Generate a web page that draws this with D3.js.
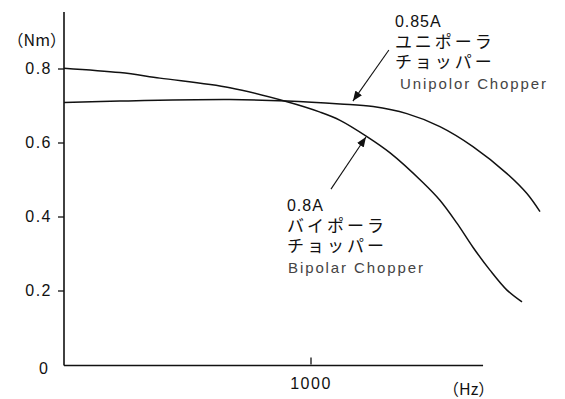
<!DOCTYPE html>
<html>
<head>
<meta charset="utf-8">
<script src="https://cdn.jsdelivr.net/npm/d3@7"></script>
<style>
  body { margin: 0; background: #fff; }
  svg text { font-family: "Liberation Sans", Arial, sans-serif; fill: #111; }
  .jp { font-family: "Noto Sans CJK JP", sans-serif; }
</style>
</head>
<body>
<svg id="chart" width="565" height="399"></svg>
<script>
const svg = d3.select("#chart");

// frequency (Hz) and torque (Nm)
const bipolarHz = [0, 227, 389, 673, 905, 1039, 1120, 1229, 1323, 1456, 1525, 1594, 1659, 1728, 1797, 1858];
const bipolarNm = [0.801, 0.789, 0.774, 0.748, 0.710, 0.682, 0.660, 0.616, 0.572, 0.492, 0.444, 0.382, 0.317, 0.255, 0.201, 0.169];
const unipolarHz = [0, 227, 673, 905, 1120, 1254, 1391, 1525, 1659, 1797, 1878, 1931];
const unipolarNm = [0.708, 0.712, 0.716, 0.712, 0.704, 0.697, 0.678, 0.643, 0.589, 0.516, 0.462, 0.413];

const yTicks = [0.2, 0.4, 0.6, 0.8];
const xTicks = [1000];
const uniLabel = ["0.85A", "ユニポーラ", "チョッパー", "Unipolor Chopper"];
const biLabel = ["0.8A", "バイポーラ", "チョッパー", "Bipolar Chopper"];
// arrows: [tail, tip] in data units
const uniArrow = [[1318, 0.850], [1172, 0.712]];
const biArrow = [[1083, 0.474], [1225, 0.615]];

const X_END = 1700, Y_TOP = 0.953;

let xscale = d3.scaleLinear().domain([0, 1000]).range([64, 310.5]);
let yscale = d3.scaleLinear().domain([0, 0.8]).range([364.5, 68.5]);

function main() {
    drawAxes();
    drawCurves();
    drawNotes();
}

function drawAxes() {
    const yAxis = svg.append("g")
        .attr("transform", `translate(${xscale(0)},0)`)
        .call(d3.axisLeft(yscale).tickValues(yTicks).tickSize(6).tickPadding(6).tickFormat(d3.format(".1f")));
    yAxis.select(".domain").remove();
    yAxis.selectAll(".tick line").attr("stroke", "#111").attr("stroke-width", 1.3);
    yAxis.selectAll(".tick text")
        .attr("font-size", 16).attr("fill", "#111")
        .attr("font-family", "Liberation Sans, Arial, sans-serif")
        .style("letter-spacing", "1.5px");

    const xAxis = svg.append("g")
        .attr("transform", `translate(0,${yscale(0)})`)
        .call(d3.axisBottom(xscale).tickValues(xTicks).tickFormat(d3.format("d"))
            .tickSizeInner(-7).tickSizeOuter(0).tickPadding(13));
    xAxis.select(".domain").remove();
    xAxis.selectAll(".tick line").attr("stroke", "#111").attr("stroke-width", 1.3);
    xAxis.selectAll(".tick text")
        .attr("font-size", 16).attr("fill", "#111")
        .attr("font-family", "Liberation Sans, Arial, sans-serif")
        .style("letter-spacing", "1.5px");

    // axis lines
    svg.append("line")
        .attr("x1", xscale(0)).attr("x2", xscale(0))
        .attr("y1", yscale(Y_TOP)).attr("y2", yscale(0) + 1)
        .attr("stroke", "#111").attr("stroke-width", 1.6);
    svg.append("line")
        .attr("x1", xscale(0)).attr("x2", xscale(X_END))
        .attr("y1", yscale(0) + 1).attr("y2", yscale(0) + 1)
        .attr("stroke", "#111").attr("stroke-width", 1.6);

    svg.append("text")
        .attr("x", xscale(0) - 16).attr("y", yscale(0) + 9)
        .attr("text-anchor", "end").attr("font-size", 16)
        .text("0");

    svg.append("text").attr("class", "jp")
        .attr("x", xscale(0) + 2).attr("y", 46)
        .attr("text-anchor", "end").attr("font-size", 16)
        .text("（Nm）");
    svg.append("text").attr("class", "jp")
        .attr("x", 443).attr("y", yscale(0) + 30)
        .attr("font-size", 16)
        .text("（Hz）");
}

function drawCurves() {
    const line = d3.line()
        .x(d => xscale(d[0]))
        .y(d => yscale(d[1]))
        .curve(d3.curveCatmullRom.alpha(0.5));
    const series = [d3.zip(bipolarHz, bipolarNm), d3.zip(unipolarHz, unipolarNm)];
    svg.selectAll(".curve").data(series).join("path")
        .attr("class", "curve")
        .attr("fill", "none")
        .attr("stroke", "#111")
        .attr("stroke-width", 1.5)
        .attr("d", line);
}

function drawNotes() {
    svg.append("defs").append("marker")
        .attr("id", "head")
        .attr("viewBox", "0 0 10 8")
        .attr("refX", 10).attr("refY", 4)
        .attr("markerWidth", 10).attr("markerHeight", 8)
        .attr("markerUnits", "userSpaceOnUse")
        .attr("orient", "auto")
        .append("path").attr("d", "M0,0L10,4L0,8z").attr("fill", "#111");

    svg.selectAll(".arrow").data([uniArrow, biArrow]).join("line")
        .attr("class", "arrow")
        .attr("x1", d => xscale(d[0][0])).attr("y1", d => yscale(d[0][1]))
        .attr("x2", d => xscale(d[1][0])).attr("y2", d => yscale(d[1][1]))
        .attr("stroke", "#111").attr("stroke-width", 1.1)
        .attr("marker-end", "url(#head)");

    drawLabel(uniLabel, xscale(uniArrow[0][0]) + 6, yscale(uniArrow[0][1]) - 23, 400);
    drawLabel(biLabel, xscale(biArrow[0][0]) - 44, yscale(biArrow[0][1]) + 22, 288);
}

function drawLabel(lines, x, y, engX) {
    const g = svg.append("g");
    g.append("text").attr("x", x).attr("y", y).attr("font-size", 16)
        .style("letter-spacing", "1px").text(lines[0]);
    g.append("text").attr("class", "jp").attr("x", x).attr("y", y + 21).attr("font-size", 17)
        .style("letter-spacing", "3px").text(lines[1]);
    g.append("text").attr("class", "jp").attr("x", x).attr("y", y + 41).attr("font-size", 17)
        .style("letter-spacing", "3px").text(lines[2]);
    g.append("text").attr("x", engX).attr("y", y + 62).attr("font-size", 15)
        .style("fill", "#444")
        .style("letter-spacing", "1.9px").text(lines[3]);
}

main();
</script>
</body>
</html>
